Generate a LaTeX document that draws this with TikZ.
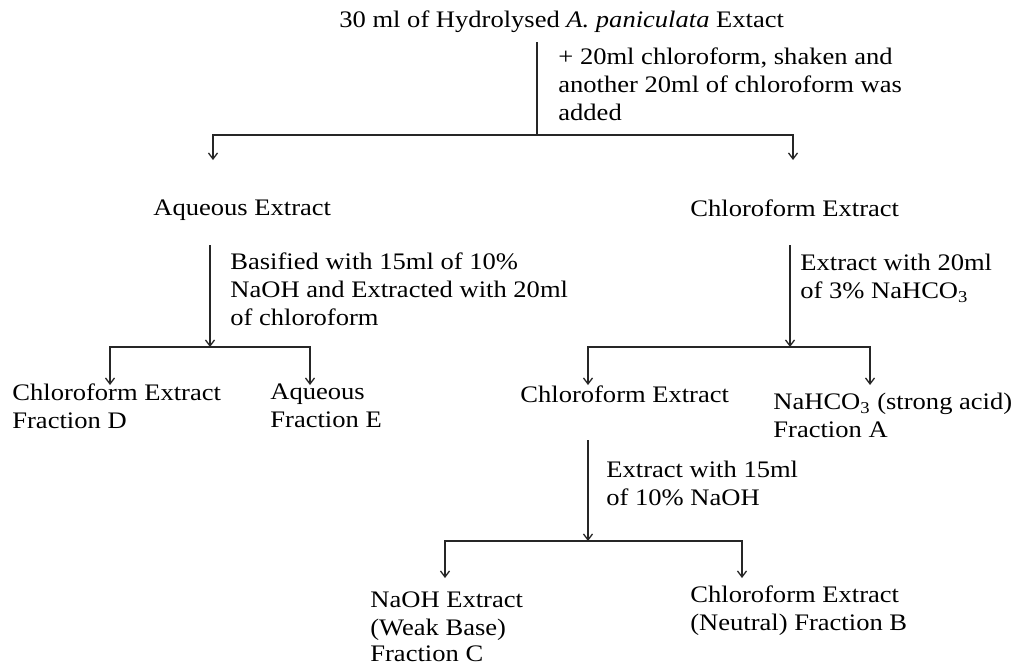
\documentclass[tikz,border=0pt]{standalone}
\usepackage{fontspec}
\setmainfont{Liberation Serif}[FakeStretch=1.12]
\usetikzlibrary{arrows.meta}

\begin{document}
\begin{tikzpicture}[x=0.5pt,y=-0.5pt,
	txt/.style={anchor=north west,align=left,inner sep=0pt,font=\fontsize{11.85}{14}\selectfont},
	flow/.style={line width=0.65pt,black!85},
	arr/.style={flow,-{Straight Barb[length=3pt,width=4.5pt]}}]

	\useasboundingbox (0,0) rectangle (1013,665);

	% texts
	\node[txt] (crude) at (339,10) {30 ml of Hydrolysed \textit{A. paniculata} Extact};
	\node[txt] (stepA) at (558,47) {+ 20ml chloroform, shaken and\\another 20ml of chloroform was\\added};
	\node[txt] (aqex) at (153,199) {Aqueous Extract};
	\node[txt] (chex) at (690,199) {Chloroform Extract};

	\node[txt] (stepB) at (230,252) {Basified with 15ml of 10\%\\NaOH and Extracted with 20ml\\of chloroform};
	\node[txt] (fracD) at (12,383) {Chloroform Extract\\Fraction D};
	\node[txt] (fracE) at (270,383) {Aqueous\\Fraction E};

	\node[txt] (stepC) at (800,254) {Extract with 20ml\\of 3\% NaHCO\textsubscript{3}};
	\node[txt] (chexB) at (520,385) {Chloroform Extract};
	\node[txt] (fracA) at (773,393) {NaHCO\textsubscript{3} (strong acid)\\Fraction A};

	\node[txt] (stepD) at (606,461) {Extract with 15ml\\of 10\% NaOH};
	\node[txt] (fracC) at (370,591) {NaOH Extract\\(Weak Base)\\[-1pt]Fraction C};
	\node[txt] (fracB) at (690,585) {Chloroform Extract\\(Neutral) Fraction B};

	% first split
	\coordinate (s1) at (537,42);
	\coordinate (j1) at (537,135);
	\coordinate (t1a) at (213,160);
	\coordinate (t1b) at (793,160);
	\draw[flow] (s1) -- (j1);
	\draw[arr] (j1) -| (t1a);
	\draw[arr] (j1) -| (t1b);

	% aqueous side
	\coordinate (s2) at (210,245);
	\coordinate (j2) at (210,347);
	\coordinate (t2a) at (110,385);
	\coordinate (t2b) at (310,385);
	\draw[arr] (s2) -- (j2);
	\draw[arr] (j2) -| (t2a);
	\draw[arr] (j2) -| (t2b);

	% chloroform side
	\coordinate (s3) at (790,245);
	\coordinate (j3) at (790,347);
	\coordinate (t3a) at (588,385);
	\coordinate (t3b) at (870,385);
	\draw[arr] (s3) -- (j3);
	\draw[arr] (j3) -| (t3a);
	\draw[arr] (j3) -| (t3b);

	% last split
	\coordinate (s4) at (588,440);
	\coordinate (j4) at (588,541);
	\coordinate (t4a) at (445,578);
	\coordinate (t4b) at (742,578);
	\draw[arr] (s4) -- (j4);
	\draw[arr] (j4) -| (t4a);
	\draw[arr] (j4) -| (t4b);

\end{tikzpicture}
\end{document}
